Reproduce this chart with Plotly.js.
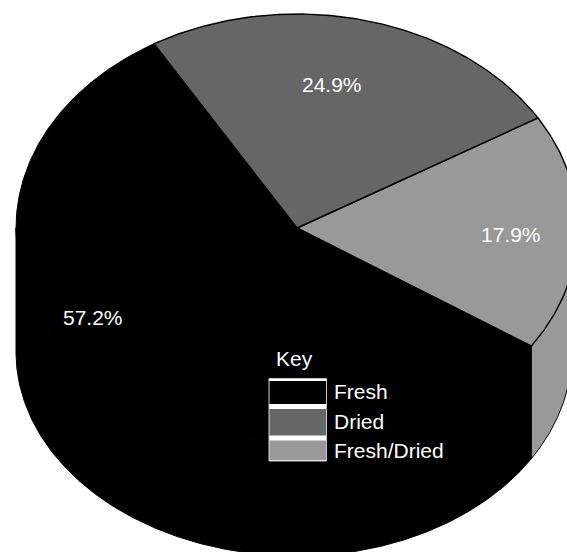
<!DOCTYPE html>
<html>
<head>
<meta charset="utf-8">
<script src="https://cdn.plot.ly/plotly-3.0.1.min.js"></script>
<style>html,body{margin:0;padding:0;background:#fff;overflow:hidden}#c{width:567px;height:552px}</style>
</head>
<body>
<div id="c"></div>
<script>
const categories = ["Fresh", "Dried", "Fresh/Dried"];
const shares = [57.2, 24.9, 17.9];
const colours = ["#000000", "#666666", "#999999"];

// projection of the tilted pie, in pixels of the picture
const cx = 297, cy = 228, rx = 281, ry = 214;
const baseCy = 352, baseRy = 204, baseRxLeft = 281, baseRxRight = 275;
const font = {family: "Liberation Sans, Arial, sans-serif", size: 21, color: "#ffffff"};

const rad = t => t * Math.PI / 180;
const px = t => cx + rx * Math.cos(rad(t));
const topY = t => cy - ry * Math.sin(rad(t));
const baseX = t => {
  const c = Math.cos(rad(t));
  return cx + (c < 0 ? baseRxLeft : baseRxRight) * c;
};
const baseY = t => baseCy - baseRy * Math.sin(rad(t));
const degrees = shares.map(s => s / 100 * 360);

// Dried starts at the upper left edge and runs clockwise, then Fresh/Dried, then Fresh
const driedStart = 120.6;
const driedEnd = driedStart - degrees[1];
const mixEnd = driedEnd - degrees[2];
// the wall divider drops straight down from the rim
const baseDivide = -Math.acos((px(mixEnd) - cx) / baseRxRight) * 180 / Math.PI;

function arc(from, to, xFn, yFn) {
  const n = Math.ceil(Math.abs(to - from) * 2), xs = [], ys = [];
  for (let i = 0; i <= n; i++) {
    const t = from + (to - from) * i / n;
    xs.push(xFn(t)); ys.push(yFn(t));
  }
  return [xs, ys];
}
function sector(from, to, color, lineW) {
  const [xs, ys] = arc(from, to, px, topY);
  return {type: "scatter", mode: "lines", x: [cx, ...xs, cx], y: [cy, ...ys, cy], fill: "toself",
    fillcolor: color, line: {color: "#000000", width: lineW}, hoverinfo: "skip", showlegend: false};
}
function wall(topFrom, topTo, baseFrom, baseTo, color, lineW) {
  const [x1, y1] = arc(topFrom, topTo, px, topY);
  const [x2, y2] = arc(baseTo, baseFrom, baseX, baseY);
  return {type: "scatter", mode: "lines", x: [...x1, ...x2, x1[0]], y: [...y1, ...y2, y1[0]], fill: "toself",
    fillcolor: color, line: {color: "#000000", width: lineW}, hoverinfo: "skip", showlegend: false};
}

const traces = [
  wall(180, 360 + mixEnd, 180, 360 + baseDivide, colours[0], 1),
  wall(mixEnd, 0, baseDivide, 0, colours[2], 1),
  sector(driedEnd, mixEnd, colours[2], 1.4),
  sector(mixEnd, driedStart - 360, colours[0], 1),
  sector(driedStart, driedEnd, colours[1], 1.4)
];

const labelAt = [[93, 317], [332, 84], [511, 234]];
const annotations = shares.map((s, i) => ({
  x: labelAt[i][0], y: labelAt[i][1], xref: "x", yref: "y", text: s.toFixed(1) + "%",
  showarrow: false, font: font, xanchor: "center", yanchor: "middle"
}));
annotations.push({x: 294, y: 358, xref: "x", yref: "y", text: "Key", showarrow: false, font: font, xanchor: "center", yanchor: "middle"});

const swatches = [[381, 404], [409, 435.5], [440.5, 460]];
const legendY = [391, 421, 450];
const shapes = [{type: "rect", xref: "x", yref: "y", x0: 269, x1: 326.5, y0: 378.5, y1: 461, fillcolor: "#ffffff", line: {color: "#c8c8c8", width: 1}}];
categories.forEach((c, i) => {
  shapes.push({type: "rect", xref: "x", yref: "y", x0: 269.5, x1: 326, y0: swatches[i][0], y1: swatches[i][1], fillcolor: colours[i], line: {width: 0}});
  annotations.push({x: 332, y: legendY[i], xref: "x", yref: "y", text: c, showarrow: false, font: font, xanchor: "left", yanchor: "middle"});
});

const layout = {
  width: 567, height: 552, margin: {l: 0, r: 0, t: 0, b: 0},
  paper_bgcolor: "#ffffff", plot_bgcolor: "#ffffff", showlegend: false,
  xaxis: {range: [0, 567], visible: false, fixedrange: true},
  yaxis: {range: [552, 0], visible: false, fixedrange: true},
  shapes: shapes, annotations: annotations
};
Plotly.newPlot("c", traces, layout, {displayModeBar: false, staticPlot: true});
</script>
</body>
</html>
